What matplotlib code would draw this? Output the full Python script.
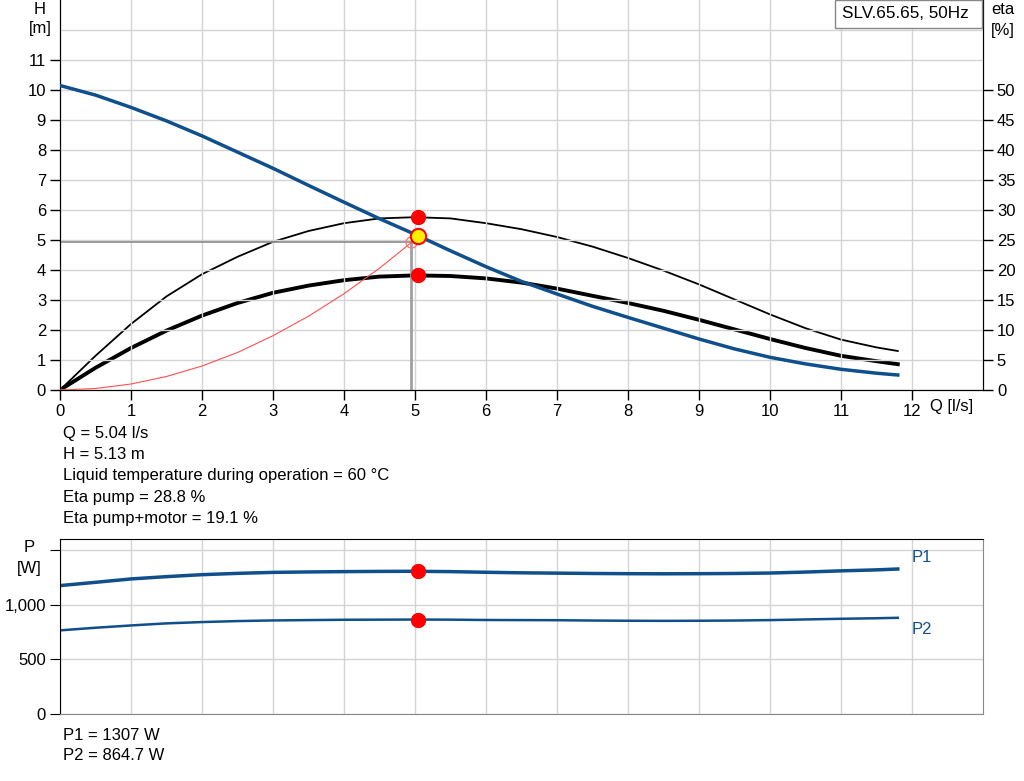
import matplotlib
matplotlib.use('Agg')
import matplotlib.pyplot as plt
from matplotlib.patches import Rectangle

plt.rcParams['font.family'] = ['Liberation Sans', 'DejaVu Sans']
plt.rcParams['font.size'] = 12

# pump curve data
q = [0, 0.5, 1, 1.5, 2, 2.5, 3, 3.5, 4, 4.5, 5, 5.5, 6, 6.5, 7, 7.5, 8, 8.5, 9, 9.5,
     10, 10.5, 11, 11.5, 11.8]
h = [10.15, 9.83, 9.42, 8.97, 8.47, 7.93, 7.39, 6.82, 6.26, 5.71, 5.19, 4.64, 4.11, 3.62,
     3.2, 2.79, 2.42, 2.06, 1.7, 1.37, 1.09, 0.87, 0.69, 0.56, 0.5]
eta_pump = [0, 5.7, 11.0, 15.6, 19.3, 22.2, 24.7, 26.5, 27.8, 28.6, 28.8, 28.6, 27.8, 26.8,
            25.5, 23.9, 22.0, 19.9, 17.6, 15.1, 12.6, 10.3, 8.4, 7.1, 6.5]
eta_total = [0, 3.7, 7.0, 9.9, 12.4, 14.5, 16.2, 17.4, 18.3, 18.9, 19.1, 19.0, 18.6, 17.9,
             16.9, 15.7, 14.5, 13.2, 11.7, 10.1, 8.5, 7.0, 5.7, 4.8, 4.3]
p1 = [1176, 1206, 1237, 1258, 1276, 1288, 1297, 1301, 1304, 1306, 1307, 1304, 1298, 1293,
      1290, 1287, 1285, 1284, 1285, 1287, 1291, 1300, 1311, 1320, 1328]
p2 = [766, 790, 811, 830, 842, 851, 857, 860, 863, 864, 865, 864, 861, 860,
      859, 856, 854, 853, 854, 856, 860, 866, 872, 877, 881]

# system curve
q_sys = [0, 0.5, 1, 1.5, 2, 2.5, 3, 3.5, 4, 4.5, 4.95]
h_sys = [0, 0.05, 0.2, 0.45, 0.8, 1.25, 1.81, 2.46, 3.21, 4.06, 4.92]

# duty point
q_op = 5.04
h_op = 5.13
eta_p_op = 28.8
eta_t_op = 19.1
p1_op = 1307
p2_op = 864.7
q_req = 4.95
h_req = 4.92

info_lines = ['Q = 5.04 l/s', 'H = 5.13 m', 'Liquid temperature during operation = 60 °C',
              'Eta pump = 28.8 %', 'Eta pump+motor = 19.1 %']
power_lines = ['P1 = 1307 W', 'P2 = 864.7 W']

blue = '#0e4f8c'
grid_c = '#d4d4d4'

fig = plt.figure(figsize=(10.24, 7.81), dpi=100)
ax = fig.add_axes([60/1024, 1 - 390/781, 923/1024, 390/781])
ax2 = ax.twinx()

ax.set_xlim(0, 13)
ax.set_ylim(0, 13)
ax2.set_ylim(0, 65)
ax.set_xticks(range(0, 13))
ax.set_yticks(range(0, 12))
ax.set_yticks([12], minor=True)
ax.tick_params(axis='y', which='minor', length=0)
ax2.set_yticks(range(0, 55, 5))
ax.grid(True, which='both', color=grid_c, lw=1)
ax.set_axisbelow(True)
ax.spines['top'].set_visible(False)
ax2.spines['top'].set_visible(False)
for a in (ax, ax2):
    a.tick_params(direction='out', length=7, width=1, labelsize=12, pad=3)
ax.set_zorder(ax2.get_zorder() + 1)
ax.patch.set_visible(False)

# eta curves on right axis
ax2.plot(q, eta_pump, color='black', lw=1.3)
ax2.plot(q, eta_total, color='black', lw=2.8)

# guide lines to requested point
ax.plot([0, q_req], [h_req, h_req], color='#8a8a8a', lw=1.2, zorder=2)
ax.plot([q_req, q_req], [0, h_req], color='#a0a0a0', lw=2, zorder=2)

ax.plot(q_sys, h_sys, color='#ff5050', lw=0.8, zorder=3)
ax.plot(q, h, color=blue, lw=2.5, zorder=4)

ax.plot(q_req, h_req, 'o', ms=8, mfc='none', mec='#f08080', mew=1, zorder=5)
ax.plot(q_op, eta_p_op / 5, 'o', ms=10, color='#ff0000', zorder=6)
ax.plot(q_op, eta_t_op / 5, 'o', ms=10, color='#ff0000', zorder=6)
ax.plot(q_op, h_op, 'o', ms=11, mfc='#ffee00', mec='#ff0000', mew=1.5, zorder=7)

fig.text(40/1024, 1 - 10/781, 'H', ha='center', va='center')
fig.text(40/1024, 1 - 28/781, '[m]', ha='center', va='center')
fig.text(1003/1024, 1 - 10/781, 'eta', ha='center', va='center')
fig.text(1003/1024, 1 - 30/781, '[%]', ha='center', va='center')
fig.text(930/1024, 1 - 407/781, 'Q [l/s]', ha='left', va='center')

# title box top right
fig.patches.append(Rectangle((835/1024, 1 - 28/781), 147/1024, 28/781, transform=fig.transFigure,
                             fc='white', ec='#888888', lw=1, zorder=10))
fig.text(842/1024, 1 - 14/781, 'SLV.65.65, 50Hz', ha='left', va='center', fontsize=12.3, zorder=11)

for i, line in enumerate(info_lines):
    fig.text(63/1024, 1 - (433 + i * 21.5)/781, line, ha='left', va='center')

# power chart
axp = fig.add_axes([60/1024, 1 - 714/781, 923/1024, (714 - 539.3)/781])
axp.set_xlim(0, 13)
axp.set_ylim(0, 1600)
axp.set_xticks(range(0, 13))
axp.set_yticks([0, 500, 1000, 1500])
axp.set_yticklabels(['0', '500', '1,000', ''])
axp.tick_params(axis='x', length=0, labelbottom=False)
axp.tick_params(axis='y', direction='out', length=7, labelsize=12, pad=3)
axp.grid(True, color=grid_c, lw=1)
axp.set_axisbelow(True)
axp.spines['right'].set_color('#888888')
axp.spines['bottom'].set_color('#888888')

axp.plot(q, p1, color=blue, lw=2.5)
axp.plot(q, p2, color=blue, lw=1.8)
axp.plot(q_op, p1_op, 'o', ms=10, color='#ff0000', zorder=5)
axp.plot(q_op, p2_op, 'o', ms=10, color='#ff0000', zorder=5)
axp.text(12, 1430, 'P1', color=blue, ha='left', va='center')
axp.text(12, 770, 'P2', color=blue, ha='left', va='center')

fig.text(29/1024, 1 - 548/781, 'P', ha='center', va='center')
fig.text(29/1024, 1 - 569/781, '[W]', ha='center', va='center')

for i, line in enumerate(power_lines):
    fig.text(63/1024, 1 - (735 + i * 21)/781, line, ha='left', va='center')

fig.savefig('out.png', dpi=100)
